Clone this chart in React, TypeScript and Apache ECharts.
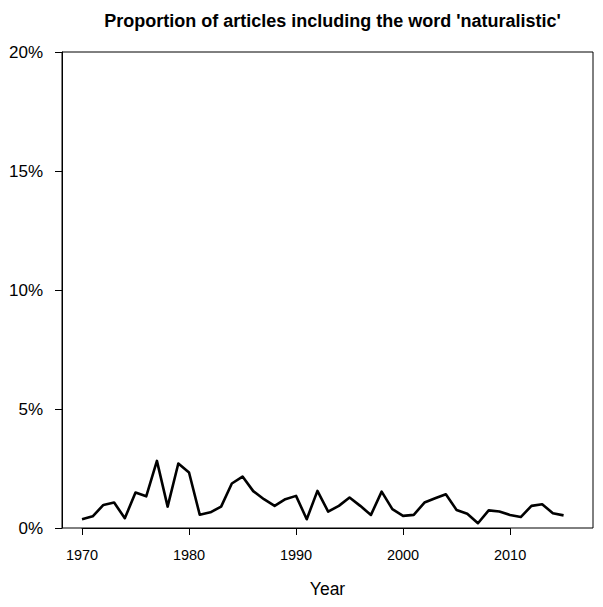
import React, { useEffect, useRef } from "react";
import * as echarts from "echarts";

const years: number[] = [
  1970, 1971, 1972, 1973, 1974, 1975, 1976, 1977, 1978, 1979,
  1980, 1981, 1982, 1983, 1984, 1985, 1986, 1987, 1988, 1989,
  1990, 1991, 1992, 1993, 1994, 1995, 1996, 1997, 1998, 1999,
  2000, 2001, 2002, 2003, 2004, 2005, 2006, 2007, 2008, 2009,
  2010, 2011, 2012, 2013, 2014, 2015,
];
const proportion: number[] = [
  0.37, 0.49, 0.97, 1.07, 0.41, 1.49, 1.33, 2.82, 0.9, 2.71,
  2.33, 0.56, 0.66, 0.9, 1.87, 2.16, 1.55, 1.21, 0.93, 1.21,
  1.35, 0.37, 1.56, 0.69, 0.93, 1.28, 0.93, 0.55, 1.53, 0.79,
  0.51, 0.55, 1.07, 1.25, 1.42, 0.76, 0.6, 0.2, 0.74, 0.69,
  0.55, 0.46, 0.93, 1.0, 0.62, 0.53,
];
const yTicks: number[] = [0, 5, 10, 15, 20];
const xTickYears: number[] = [1970, 1980, 1990, 2000, 2010];

const TITLE = "Proportion of articles including the word 'naturalistic'";
const X_NAME = "Year";
const FONT = "Liberation Sans, Arial, sans-serif";

export default function App() {
  const ref = useRef<HTMLDivElement>(null);
  useEffect(() => {
    document.body.style.margin = "0";
    if (!ref.current) return;
    const chart = echarts.init(ref.current, null, { renderer: "svg" });
    const plotLeft = 62;
    const plotRight = 593;
    const plotTop = 52;
    const plotBottom = 528;
    const xMin = 1968.13;
    const xMax = 2017.75;
    const pxPerYear = (plotRight - plotLeft) / (xMax - xMin);
    const tickLeft = plotLeft + (xTickYears[0] - xMin) * pxPerYear;
    const tickRight = plotLeft + (xTickYears[xTickYears.length - 1] - xMin) * pxPerYear;
    const center = (plotLeft + plotRight) / 2;
    chart.setOption({
      animation: false,
      backgroundColor: "#ffffff",
      textStyle: { fontFamily: FONT },
      title: {
        text: TITLE,
        left: center,
        textAlign: "center",
        top: 7,
        textStyle: { fontFamily: FONT, fontSize: 18, fontWeight: "bold", color: "#000" },
      },
      grid: [
        {
          left: plotLeft,
          right: 603 - plotRight,
          top: plotTop,
          bottom: 607 - plotBottom,
          show: true,
          borderColor: "#000",
          borderWidth: 1,
          backgroundColor: "transparent",
        },
        {
          left: tickLeft,
          right: 603 - tickRight,
          top: plotTop,
          bottom: 607 - plotBottom,
          show: false,
        },
      ],
      xAxis: [
        {
          gridIndex: 0,
          type: "value",
          min: xMin,
          max: xMax,
          axisLine: { show: false },
          axisTick: { show: false },
          axisLabel: { show: false },
          splitLine: { show: false },
        },
        {
          gridIndex: 1,
          type: "value",
          min: xTickYears[0],
          max: xTickYears[xTickYears.length - 1],
          interval: 10,
          axisLine: { show: true, lineStyle: { color: "#000", width: 1 } },
          axisTick: { show: true, length: 7, lineStyle: { color: "#000" } },
          axisLabel: {
            show: true,
            fontSize: 14.5,
            color: "#000",
            margin: 19,
            fontFamily: FONT,
            formatter: (v: number) => String(v),
          },
          splitLine: { show: false },
        },
      ],
      yAxis: [
        {
          gridIndex: 0,
          type: "value",
          min: yTicks[0],
          max: yTicks[yTicks.length - 1],
          interval: 5,
          axisLine: { show: true, lineStyle: { color: "#000", width: 1 } },
          axisTick: { show: true, length: 7, lineStyle: { color: "#000" } },
          axisLabel: {
            show: true,
            fontSize: 17,
            color: "#000",
            margin: 19,
            fontFamily: FONT,
            formatter: (v: number) => `${v}%`,
          },
          splitLine: { show: false },
        },
        {
          gridIndex: 1,
          type: "value",
          min: yTicks[0],
          max: yTicks[yTicks.length - 1],
          show: false,
        },
      ],
      graphic: [
        {
          type: "text",
          x: center,
          y: 580,
          style: {
            text: X_NAME,
            fontSize: 17.5,
            fill: "#000",
            fontFamily: FONT,
            textAlign: "center",
            textVerticalAlign: "top",
          },
        },
      ],
      series: [
        {
          type: "line",
          xAxisIndex: 0,
          yAxisIndex: 0,
          data: years.map((y, i) => [y, proportion[i]]),
          showSymbol: false,
          symbol: "none",
          lineStyle: { color: "#000", width: 2.6, join: "round" },
        },
      ],
    });
    return () => chart.dispose();
  }, []);
  return <div ref={ref} style={{ width: 603, height: 607 }} />;
}
